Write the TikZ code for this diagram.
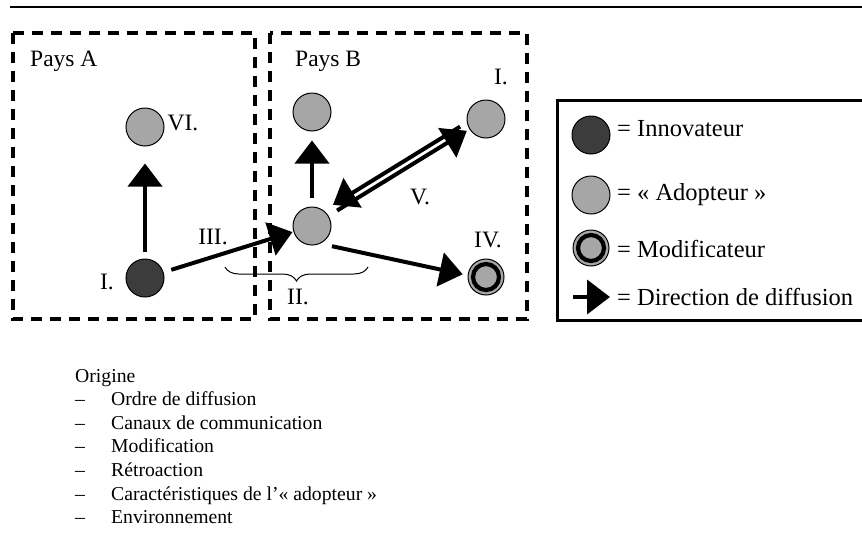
\documentclass[tikz,border=0pt]{standalone}
\usepackage{fontspec}
\setmainfont{Liberation Serif}
\usetikzlibrary{arrows.meta,decorations.pathreplacing}
\definecolor{fonce}{HTML}{3C3C3C}
\definecolor{gris}{HTML}{A6A6A6}
\begin{document}
\begin{tikzpicture}[x=1pt,y=-1pt]
\tikzset{
	adopt/.style={circle, draw=black, line width=1pt, fill=gris, minimum size=38pt, inner sep=0pt},
	innov/.style={adopt, fill=fonce},
	modif/.style={circle, draw=black, line width=4.2pt, fill=gris, minimum size=26pt, inner sep=0pt},
	zone/.style={line width=4pt, dash pattern=on 11pt off 8pt},
	fl/.style={line width=4pt, -{Triangle[length=23pt,width=34pt]}},
	lab/.style={font=\fontsize{23.5}{27}\selectfont, inner sep=0pt},
	leg/.style={font=\fontsize{24.5}{28}\selectfont, inner sep=0pt, anchor=base west},
	liste/.style={font=\fontsize{19.7}{24}\selectfont, inner sep=0pt, anchor=base west}
}
\useasboundingbox (0,0) rectangle (862,544);

% trait du haut
\draw[line width=2pt] (10,7) -- (862,7);

% pays A et pays B
\draw[zone] (13,33) rectangle (255,319);
\draw[zone] (270,33) rectangle (527,319);
\node[lab, anchor=base west] (paysA) at (30,66) {Pays A};
\node[lab, anchor=base west] (paysB) at (295,66) {Pays B};

% acteurs
\node[innov] (a_I) at (145,278) {};
\node[adopt] (a_VI) at (145,127) {};
\node[adopt] (b_mil) at (312,226) {};
\node[adopt] (b_haut) at (312,112) {};
\node[adopt] (b_I) at (486,119) {};
\node[adopt, minimum size=36pt] (b_IV) at (486,277) {};
\node[modif] (b_IVc) at (486,277) {};

% numeros
\node[lab] (l_VI) at (183,123) {VI.};
\node[lab] (l_I) at (107,282) {I.};
\node[lab] (l_III) at (213,237) {III.};
\node[lab] (l_II) at (298,297) {II.};
\node[lab] (l_V) at (420,197) {V.};
\node[lab] (l_IV) at (488,240) {IV.};
\node[lab] (l_Ib) at (501,77) {I.};

% fleches de diffusion
\draw[fl, shorten <=7pt, shorten >=17pt] (a_I) -- (a_VI);
\draw[fl, shorten <=8pt, shorten >=1pt] (a_I) -- (b_mil);
\draw[fl, shorten <=9pt, shorten >=9pt] (b_mil) -- (b_haut);
\draw[fl, shorten <=12pt, shorten >=5pt] (b_mil.-65) -- (b_IV.175);

% retroaction V.
\draw[fl, shorten <=26pt, shorten >=29pt] ([xshift=-3.7pt,yshift=6pt]b_I.center) -- ([xshift=-3.7pt,yshift=6pt]b_mil.center);
\draw[fl, shorten <=10pt, shorten >=3pt] (b_mil) -- (b_I);

% accolade II.
\coordinate (acc_g) at (225,267);
\coordinate (acc_d) at (368,267);
\draw[decorate, decoration={brace, mirror, amplitude=14pt}, line width=1pt] (acc_g) -- (acc_d);

% legende
\draw[line width=3pt] (557,100) rectangle (875,320);
\node[innov] (lg_inn) at (591,135) {};
\node[adopt] (lg_ado) at (591,195) {};
\node[adopt, minimum size=36pt] (lg_mod) at (591,248) {};
\node[modif] (lg_modc) at (591,248) {};
\coordinate (lg_fd) at (573,297);
\coordinate (lg_ff) at (610,297);
\draw[fl] (lg_fd) -- (lg_ff);
\node[leg] (t_inn) at (617,136) {= Innovateur};
\node[leg] (t_ado) at (617,200) {= « Adopteur »};
\node[leg] (t_mod) at (617,257) {= Modificateur};
\node[leg] (t_dir) at (617,305) {= Direction de diffusion};

% liste du bas
\node[liste] (origine) at (75,382) {Origine};
\node[liste] (tr1) at (75,405.6) {–};
\node[liste] (it1) at (111,405.6) {Ordre de diffusion};
\node[liste] (tr2) at (75,429.2) {–};
\node[liste] (it2) at (111,429.2) {Canaux de communication};
\node[liste] (tr3) at (75,452.8) {–};
\node[liste] (it3) at (111,452.8) {Modification};
\node[liste] (tr4) at (75,476.4) {–};
\node[liste] (it4) at (111,476.4) {Rétroaction};
\node[liste] (tr5) at (75,500) {–};
\node[liste] (it5) at (111,500) {Caractéristiques de l’« adopteur »};
\node[liste] (tr6) at (75,523.6) {–};
\node[liste] (it6) at (111,523.6) {Environnement};

\end{tikzpicture}
\end{document}
